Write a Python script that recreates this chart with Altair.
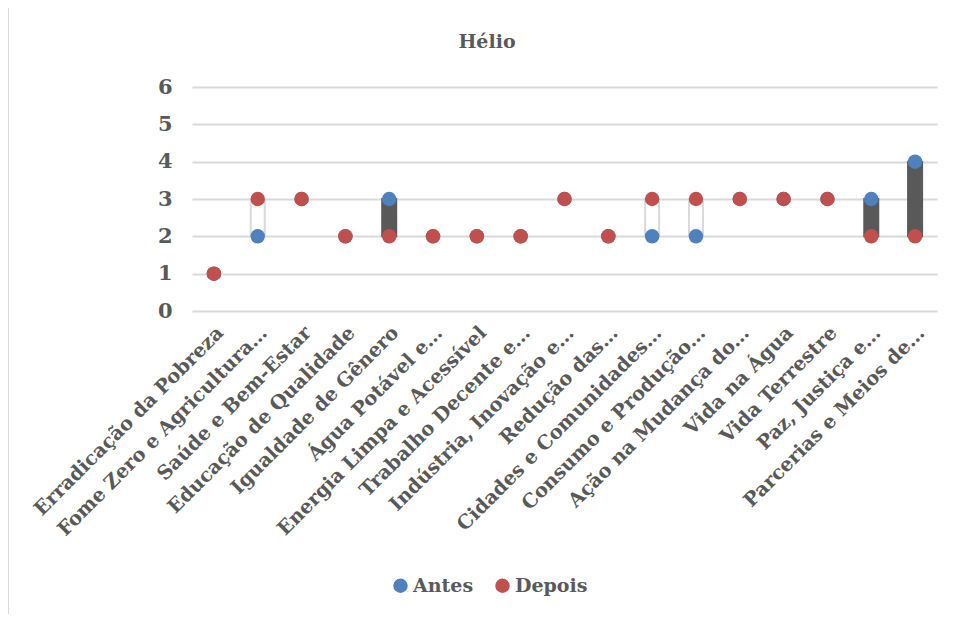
import altair as alt
import pandas as pd

categories = [
    "Erradicação da Pobreza",
    "Fome Zero e Agricultura…",
    "Saúde e Bem-Estar",
    "Educação de Qualidade",
    "Igualdade de Gênero",
    "Água Potável e…",
    "Energia Limpa e Acessível",
    "Trabalho Decente e…",
    "Indústria, Inovação e…",
    "Redução das…",
    "Cidades e Comunidades…",
    "Consumo e Produção…",
    "Ação na Mudança do…",
    "Vida na Água",
    "Vida Terrestre",
    "Paz, Justiça e…",
    "Parcerias e Meios de…",
]
antes = [1, 2, 3, 2, 3, 2, 2, 2, 3, 2, 2, 2, 3, 3, 3, 3, 4]
depois = [1, 3, 3, 2, 2, 2, 2, 2, 3, 2, 3, 3, 3, 3, 3, 2, 2]
y_ticks = [0, 1, 2, 3, 4, 5, 6]
title_text = ["Hélio"]

df = pd.DataFrame({"Categoria": categories, "Antes": antes, "Depois": depois})

FONT = "DejaVu Serif"
TXT = "#595959"

x_enc = alt.X(
    "Categoria:N",
    sort=categories,
    scale=alt.Scale(paddingInner=0, paddingOuter=0),
    axis=alt.Axis(
        title=None,
        labelAngle=-45,
        labelAlign="right",
        labelBaseline="top",
        labelFont=FONT,
        labelFontSize=19.5,
        labelFontWeight="bold",
        labelColor=TXT,
        labelPadding=12,
        labelLimit=500,
        labelOverlap=False,
        ticks=False,
        domain=False,
        grid=False,
    ),
)

y_scale = alt.Scale(domain=[0, 6])
y_axis = alt.Axis(
    title=None,
    values=y_ticks,
    labelFont=FONT,
    labelFontSize=21,
    labelFontWeight="bold",
    labelColor=TXT,
    labelPadding=20,
    ticks=False,
    domain=False,
    gridColor="#D9D9D9",
    gridWidth=2,
)

bars = (
    alt.Chart(df)
    .transform_filter("datum.Antes != datum.Depois")
    .transform_calculate(
        lo="min(datum.Antes, datum.Depois)",
        hi="max(datum.Antes, datum.Depois)",
    )
    .mark_bar(size=14, strokeWidth=2)
    .encode(
        x=x_enc,
        y=alt.Y("lo:Q", scale=y_scale, axis=y_axis),
        y2="hi:Q",
        fill=alt.condition("datum.Depois > datum.Antes", alt.value("white"), alt.value("#595959")),
        stroke=alt.condition("datum.Depois > datum.Antes", alt.value("#D9D9D9"), alt.value("#595959")),
    )
)

points = (
    alt.Chart(df)
    .transform_fold(["Antes", "Depois"], as_=["Série", "Valor"])
    .mark_circle(size=210, opacity=1)
    .encode(
        x=x_enc,
        y=alt.Y("Valor:Q", scale=y_scale, axis=y_axis),
        color=alt.Color(
            "Série:N",
            scale=alt.Scale(domain=["Antes", "Depois"], range=["#4F81BD", "#C0504D"]),
            legend=alt.Legend(
                title=None,
                orient="none",
                legendX=199,
                legendY=489,
                direction="horizontal",
                symbolType="circle",
                symbolSize=210,
                labelFont=FONT,
                labelFontSize=19,
                labelFontWeight="bold",
                labelColor=TXT,
                columnPadding=19,
                labelOffset=3,
            ),
        ),
    )
)

title = (
    alt.Chart(pd.DataFrame({"t": title_text}))
    .mark_text(font=FONT, fontSize=19, fontWeight="bold", color=TXT, baseline="middle", align="center")
    .encode(text="t:N", x=alt.value(295), y=alt.value(-45))
)

border = alt.Chart(df).mark_rule(color="#D9D9D9", strokeWidth=1).encode(
    x=alt.value(-183.5), y=alt.value(-79), y2=alt.value(530)
)

chart = (
    alt.layer(bars, points, title, border)
    .properties(
        width=745,
        height=224,
        autosize=alt.AutoSizeParams(type="none"),
        padding={"left": 184, "top": 79, "right": 17, "bottom": 303},
    )
    .configure_view(stroke=None)
)

chart.save("out.html", embed_options={"renderer": "svg", "actions": False})
